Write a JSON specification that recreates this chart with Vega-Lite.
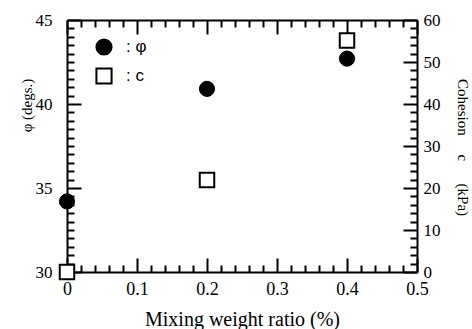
{
  "$schema": "https://vega.github.io/schema/vega-lite/v6.json",
  "width": 350,
  "height": 252,
  "autosize": {"type": "none"},
  "padding": {"left": 67, "top": 20, "right": 55, "bottom": 57},
  "background": "white",
  "config": {
    "view": {"stroke": null},
    "axis": {
      "domainColor": "black",
      "domainWidth": 2,
      "tickColor": "black",
      "tickWidth": 2,
      "labelColor": "black",
      "titleColor": "black",
      "labelFont": "Liberation Serif",
      "titleFont": "Liberation Serif",
      "labelFontSize": 17,
      "titleFontSize": 15,
      "titleFontWeight": "normal",
      "grid": false,
      "labelFlush": false,
      "labelOverlap": false,
      "labelBound": false
    },
    "legend": {
      "symbolStrokeWidth": 2,
      "symbolStrokeColor": "black"
    }
  },
  "data": {
    "values": [
      {"ratio": 0, "param": "φ", "value": 34.2},
      {"ratio": 0.2, "param": "φ", "value": 40.9},
      {"ratio": 0.4, "param": "φ", "value": 42.7},
      {"ratio": 0, "param": "c", "value": 0},
      {"ratio": 0.2, "param": "c", "value": 21.9},
      {"ratio": 0.4, "param": "c", "value": 55.1}
    ]
  },
  "layer": [
    {
      "transform": [{"filter": "datum.param === 'φ'"}],
      "mark": {"type": "point", "filled": true, "size": 230, "opacity": 1, "strokeWidth": 1},
      "encoding": {
        "x": {
          "field": "ratio", "type": "quantitative",
          "scale": {"domain": [0, 0.5], "nice": false},
          "axis": {
            "orient": "bottom",
            "title": "Mixing weight ratio (%)",
            "titleFontSize": 20,
            "titleBaseline": "alphabetic",
            "titleY": 53,
            "values": [0,0.02,0.04,0.06,0.08,0.1,0.12,0.14,0.16,0.18,0.2,0.22,0.24,0.26,0.28,0.3,0.32,0.34,0.36,0.38,0.4,0.42,0.44,0.46,0.48,0.5],
            "labelExpr": "abs(datum.value*10 - round(datum.value*10)) < 0.001 ? format(datum.value, '~g') : ''",
            "labelFontSize": 18,
            "tickSize": {"condition": {"test": "abs(datum.value*10 - round(datum.value*10)) < 0.001", "value": -14}, "value": -7},
            "labelPadding": 22
          }
        },
        "y": {
          "field": "value", "type": "quantitative",
          "scale": {"domain": [30, 45], "nice": false, "zero": false},
          "axis": {
            "orient": "left",
            "title": "φ (degs.)",
            "titleBaseline": "alphabetic",
            "titleX": -36,
            "titleY": 85,
            "values": [30,30.5,31,31.5,32,32.5,33,33.5,34,34.5,35,35.5,36,36.5,37,37.5,38,38.5,39,39.5,40,40.5,41,41.5,42,42.5,43,43.5,44,44.5,45],
            "labelExpr": "datum.value % 5 === 0 ? format(datum.value, '~g') : ''",
            "labelFontSize": 17,
            "tickSize": {"condition": {"test": "datum.value % 5 === 0", "value": -14}, "value": -7},
            "labelPadding": 29
          }
        },
        "shape": {
          "field": "param", "type": "nominal",
          "scale": {"domain": ["φ", "c"], "range": ["circle", "square"]},
          "legend": {
            "title": null,
            "orient": "none",
            "legendX": 28,
            "legendY": 18,
            "direction": "vertical",
            "symbolSize": 230,
            "symbolStrokeWidth": 2,
            "labelFont": "Liberation Sans",
            "labelFontSize": 17,
            "labelColor": "black",
            "labelOffset": 13,
            "rowPadding": 5,
            "labelExpr": "': ' + datum.label"
          }
        },
        "fill": {
          "field": "param", "type": "nominal",
          "scale": {"domain": ["φ", "c"], "range": ["black", "white"]},
          "legend": {
            "title": null,
            "orient": "none",
            "legendX": 28,
            "legendY": 18,
            "direction": "vertical",
            "symbolSize": 230,
            "symbolStrokeWidth": 2,
            "labelFont": "Liberation Sans",
            "labelFontSize": 17,
            "labelColor": "black",
            "labelOffset": 13,
            "rowPadding": 5,
            "labelExpr": "': ' + datum.label"
          }
        },
        "stroke": {
          "field": "param", "type": "nominal",
          "scale": {"domain": ["φ", "c"], "range": ["black", "black"]},
          "legend": {
            "title": null,
            "orient": "none",
            "legendX": 28,
            "legendY": 18,
            "direction": "vertical",
            "symbolSize": 230,
            "symbolStrokeWidth": 2,
            "labelFont": "Liberation Sans",
            "labelFontSize": 17,
            "labelColor": "black",
            "labelOffset": 13,
            "rowPadding": 5,
            "labelExpr": "': ' + datum.label"
          }
        }
      }
    },
    {
      "transform": [{"filter": "datum.param === 'c'"}],
      "mark": {"type": "point", "filled": true, "size": 210, "opacity": 1, "strokeWidth": 2},
      "encoding": {
        "x": {
          "field": "ratio", "type": "quantitative",
          "scale": {"domain": [0, 0.5], "nice": false},
          "axis": {
            "orient": "top",
            "title": null,
            "labels": false,
            "values": [0,0.02,0.04,0.06,0.08,0.1,0.12,0.14,0.16,0.18,0.2,0.22,0.24,0.26,0.28,0.3,0.32,0.34,0.36,0.38,0.4,0.42,0.44,0.46,0.48,0.5],
            "tickSize": {"condition": {"test": "abs(datum.value*10 - round(datum.value*10)) < 0.001", "value": -14}, "value": -7}
          }
        },
        "y": {
          "field": "value", "type": "quantitative",
          "scale": {"domain": [0, 60], "nice": false},
          "axis": {
            "orient": "right",
            "title": "Cohesion\u00a0\u00a0\u00a0\u00a0\u00a0c\u00a0\u00a0\u00a0\u00a0\u00a0\u00a0(kPa)",
            "titleAngle": 90,
            "titleBaseline": "alphabetic",
            "titleX": 40,
            "titleY": 127,
            "values": [0,2,4,6,8,10,12,14,16,18,20,22,24,26,28,30,32,34,36,38,40,42,44,46,48,50,52,54,56,58,60],
            "labelExpr": "datum.value % 10 === 0 ? format(datum.value, '~g') : ''",
            "labelFontSize": 17,
            "tickSize": {"condition": {"test": "datum.value % 10 === 0", "value": -14}, "value": -7},
            "labelPadding": 20
          }
        },
        "shape": {
          "field": "param", "type": "nominal",
          "scale": {"domain": ["φ", "c"], "range": ["circle", "square"]}
        },
        "fill": {
          "field": "param", "type": "nominal",
          "scale": {"domain": ["φ", "c"], "range": ["black", "white"]}
        },
        "stroke": {
          "field": "param", "type": "nominal",
          "scale": {"domain": ["φ", "c"], "range": ["black", "black"]}
        }
      }
    }
  ],
  "resolve": {
    "scale": {"y": "independent"},
    "axis": {"x": "independent", "y": "independent"}
  }
}
